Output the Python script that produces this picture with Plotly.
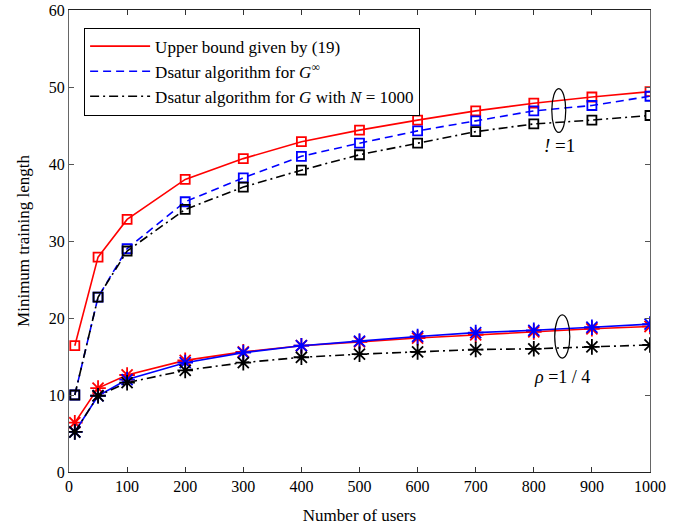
import plotly.graph_objects as go

users = [10, 50, 100, 200, 300, 400, 500, 600, 700, 800, 900, 1000]

# rho = 1 (squares)
bound_rho1 = [16.4, 27.9, 32.8, 38.0, 40.7, 42.9, 44.4, 45.7, 46.9, 47.9, 48.7, 49.4]
ginf_rho1 = [10.0, 22.7, 29.0, 35.1, 38.2, 41.0, 42.7, 44.3, 45.6, 46.9, 47.6, 48.8]
gN_rho1 = [10.0, 22.7, 28.7, 34.1, 37.0, 39.2, 41.2, 42.7, 44.2, 45.2, 45.7, 46.3]

# rho = 1/4 (stars)
bound_rho4 = [6.4, 10.9, 12.6, 14.5, 15.6, 16.4, 16.9, 17.4, 17.8, 18.2, 18.6, 18.9]
ginf_rho4 = [5.2, 9.9, 12.0, 14.2, 15.5, 16.4, 17.0, 17.6, 18.1, 18.4, 18.8, 19.2]
gN_rho4 = [5.2, 9.9, 11.6, 13.2, 14.2, 14.9, 15.3, 15.6, 15.9, 16.0, 16.25, 16.5]

legend_names = [
    "Upper bound given by (19)",
    "Dsatur algorithm for <i>G</i><sup>∞</sup>",
    "Dsatur algorithm for <i>G</i> with <i>N</i> = 1000",
]

SERIF = "Liberation Serif, Times New Roman, serif"
RED = "#ff0000"
BLUE = "#0000ff"
BLACK = "#000000"
SOLID = "solid"
DASH = "8px,5px"
DASHDOT = "9px,4px,2px,4px"

fig = go.Figure()

series = [
    (bound_rho1, RED, SOLID, "square-open", 9),
    (ginf_rho1, BLUE, DASH, "square-open", 9),
    (gN_rho1, BLACK, DASHDOT, "square-open", 9),
    (bound_rho4, RED, SOLID, "asterisk-open", 13),
    (ginf_rho4, BLUE, SOLID, "asterisk-open", 13),
    (gN_rho4, BLACK, DASHDOT, "asterisk-open", 13),
]
for ys, col, dash, sym, sz in series:
    fig.add_trace(go.Scatter(
        x=users, y=ys, mode="lines+markers", showlegend=False,
        line=dict(color=col, width=1.6, dash=dash),
        marker=dict(symbol=sym, size=sz, color=col, line=dict(color=col, width=1.8)),
    ))

for name, col, dash in zip(legend_names, [RED, BLUE, BLACK], [SOLID, DASH, DASHDOT]):
    fig.add_trace(go.Scatter(
        x=[None], y=[None], mode="lines", name=name,
        line=dict(color=col, width=1.6, dash=dash),
    ))

# ellipses
fig.add_shape(type="circle", xref="x", yref="y", x0=831, x1=855, y0=44.1, y1=49.8,
              line=dict(color="black", width=1.2))
fig.add_shape(type="circle", xref="x", yref="y", x0=836, x1=862, y0=14.8, y1=20.4,
              line=dict(color="black", width=1.2))

fig.add_annotation(x=845, y=42.4, xref="x", yref="y", text="<i>!</i> =1", showarrow=False,
                   font=dict(family=SERIF, size=19, color="black"))
fig.add_annotation(x=848, y=12.3, xref="x", yref="y", text="<i>ρ</i> =1 / 4", showarrow=False,
                   font=dict(family=SERIF, size=18, color="black"))

fig.update_layout(
    width=688, height=525,
    margin=dict(l=69, r=38, t=10, b=53, autoexpand=False),
    paper_bgcolor="white", plot_bgcolor="white",
    font=dict(family=SERIF, size=16, color="black"),
    legend=dict(x=0.026, y=0.962, xanchor="left", yanchor="top",
                bordercolor="black", borderwidth=1, bgcolor="white",
                font=dict(family=SERIF, size=17, color="black"),
                itemwidth=60, tracegroupgap=0),
)
fig.update_xaxes(
    range=[0, 1000], tickvals=list(range(0, 1001, 100)),
    ticks="inside", ticklen=5, tickcolor="#333", showgrid=False, zeroline=False,
    showline=True, linecolor="#222", linewidth=1.3, mirror="ticks", automargin=False,
    title=dict(text="Number of users", font=dict(family=SERIF, size=17), standoff=16),
)
fig.update_yaxes(
    range=[0, 60], tickvals=list(range(0, 61, 10)),
    ticks="inside", ticklen=5, tickcolor="#555", showgrid=False, zeroline=False,
    showline=True, linecolor="#666", linewidth=1.3, mirror="ticks", automargin=False,
    title=dict(text="Minimum training length", font=dict(family=SERIF, size=17), standoff=14),
)

fig.write_html("out.html")
